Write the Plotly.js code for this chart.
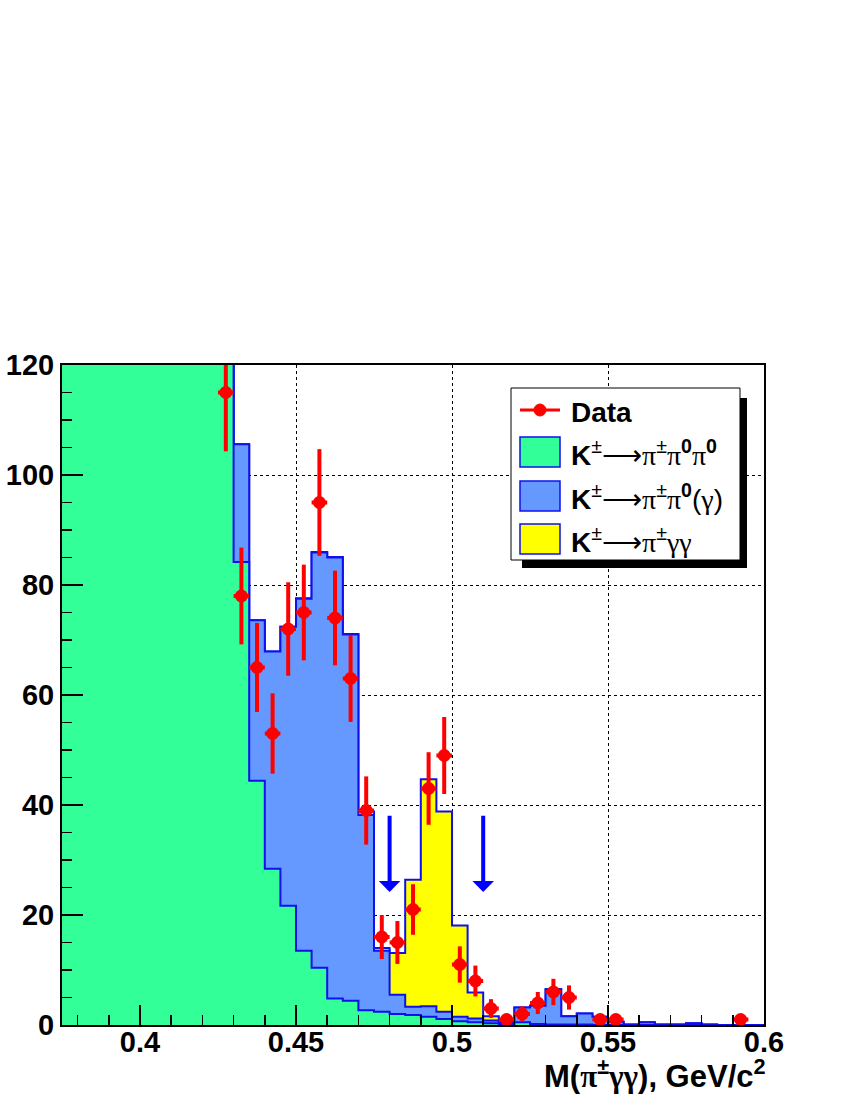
<!DOCTYPE html>
<html>
<head>
<meta charset="utf-8">
<script src="https://cdn.plot.ly/plotly-3.0.1.min.js"></script>
<style>
  body { margin: 0; background: #fff; }
  #chart { width: 850px; height: 1100px; }
</style>
</head>
<body>
<div id="chart"></div>
<script>
// bin lower edges, width 0.005 GeV/c^2
const binLow = [0.375, 0.380, 0.385, 0.390, 0.395, 0.400, 0.405, 0.410, 0.415, 0.420,
                0.425, 0.430, 0.435, 0.440, 0.445, 0.450, 0.455, 0.460, 0.465, 0.470,
                0.475, 0.480, 0.485, 0.490, 0.495, 0.500, 0.505, 0.510, 0.515, 0.520,
                0.525, 0.530, 0.535, 0.540, 0.545, 0.550, 0.555, 0.560, 0.565, 0.570,
                0.575, 0.580, 0.585, 0.590, 0.595];
const binHigh = 0.600;

// stacked levels (green, green+blue, green+blue+yellow)
const levelPi0Pi0 = [640, 700, 720, 690, 620, 540, 450, 360, 270, 200,
                     140, 84.2, 44.4, 28.4, 21.7, 13.5, 10.4, 4.8, 4.4, 2.7,
                     2.4, 2.0, 1.8, 1.5, 1.1, 0.7, 0.5, 0.3, 0.2, 0.5,
                     0.2, 0.1, 0.1, 0.1, 0, 0, 0, 0, 0, 0,
                     0, 0, 0, 0, 0];
const levelPi0Gamma = [650, 710, 730, 700, 630, 550, 460, 370, 280, 210,
                       150, 105.6, 73.6, 67.9, 72.4, 77.5, 85.9, 85.0, 71.0, 38.2,
                       13.5, 5.5, 3.3, 3.4, 2.4, 1.5, 1.2, 0.8, 0.5, 3.2,
                       3.5, 6.5, 1.6, 2.1, 1.5, 0.6, 0.1, 0.5, 0.1, 0.1,
                       0.3, 0.1, 0, 0, 0];
const levelGammaGamma = [650, 710, 730, 700, 630, 550, 460, 370, 280, 210,
                         150, 105.6, 73.6, 67.9, 72.4, 77.6, 86.0, 85.1, 71.1, 38.8,
                         14.0, 13.1, 26.4, 44.7, 38.8, 18.1, 5.9, 1.6, 0.7, 3.2,
                         3.5, 6.5, 1.6, 2.1, 1.5, 0.6, 0.1, 0.5, 0.1, 0.1,
                         0.3, 0.1, 0, 0, 0];

// data points (bin centres, counts, errors)
const dataX = [0.4275, 0.4325, 0.4375, 0.4425, 0.4475, 0.4525, 0.4575, 0.4625, 0.4675, 0.4725,
               0.4775, 0.4825, 0.4875, 0.4925, 0.4975, 0.5025, 0.5075, 0.5125, 0.5175, 0.5225,
               0.5275, 0.5325, 0.5375, 0.5475, 0.5525, 0.5925];
const dataY = [115, 78, 65, 53, 72, 75, 95, 74, 63, 39,
               16, 15, 21, 43, 49, 11, 8, 3, 1, 2,
               4, 6, 5, 1, 1, 1];
const dataErr = [10.7, 8.8, 8.1, 7.3, 8.5, 8.7, 9.7, 8.6, 7.9, 6.2,
                 4.0, 3.9, 4.6, 6.6, 7.0, 3.3, 2.8, 1.7, 1.0, 1.4,
                 2.0, 2.4, 2.2, 1.0, 1.0, 1.0];
const halfBin = 0.0025;

// signal window arrows
const cutX = [0.48, 0.51];

const sym = s => '<span style="font-family:Liberation Serif">' + s + '</span>';
const legendLabels = ['<b>Data</b>',
  '<b>K</b><sup>±</sup>' + sym('⟶π') + '<sup>±</sup>' + sym('π') + '<sup><b>0</b></sup>' + sym('π') + '<sup><b>0</b></sup>',
  '<b>K</b><sup>±</sup>' + sym('⟶π') + '<sup>±</sup>' + sym('π') + '<sup><b>0</b></sup>(' + sym('γ') + ')',
  '<b>K</b><sup>±</sup>' + sym('⟶π') + '<sup>±</sup>' + sym('γγ')];
const fillColors = ['#33ff99', '#6699ff', '#ffff00'];
const edgeColor = '#1010ee';
const font = 'Liberation Sans, Arial, Helvetica, sans-serif';

function stepY(levels) { return levels.concat([levels[levels.length - 1]]); }
const stepX = binLow.concat([binHigh]);

function histTrace(levels, color, name) {
  return {
    x: stepX, y: stepY(levels), type: 'scatter', mode: 'lines',
    line: {shape: 'hv', color: edgeColor, width: 2},
    fill: 'tozeroy', fillcolor: color, name: name, showlegend: false,
    hoverinfo: 'skip'
  };
}

let traces = [
  histTrace(levelGammaGamma, fillColors[2], 'K→πγγ'),
  histTrace(levelPi0Gamma, fillColors[1], 'K→ππ0(γ)'),
  histTrace(levelPi0Pi0, fillColors[0], 'K→ππ0π0'),
  {
    x: dataX, y: dataY, type: 'scatter', mode: 'markers', name: 'Data', showlegend: false,
    marker: {symbol: 'circle', size: 13, color: '#ff0000'},
    error_y: {type: 'data', array: dataErr, color: '#ff0000', thickness: 4, width: 0},
    error_x: {type: 'constant', value: halfBin, color: '#ff0000', thickness: 4, width: 0}
  }
];

// pixel helpers for the hand-made legend box
const px = v => (v - 62) / 702;
const py = v => (1025 - v) / 660;

let shapes = [
  {type: 'rect', xref: 'paper', yref: 'paper', x0: px(522), x1: px(747), y0: py(568), y1: py(398),
   fillcolor: '#000', line: {width: 0}},
  {type: 'rect', xref: 'paper', yref: 'paper', x0: px(511), x1: px(740), y0: py(560), y1: py(388),
   fillcolor: '#fff', line: {color: '#000', width: 1}},
  {type: 'line', xref: 'paper', yref: 'paper', x0: px(520), x1: px(560), y0: py(410), y1: py(410),
   line: {color: '#ff0000', width: 3}},
  {type: 'circle', xref: 'paper', yref: 'paper', x0: px(534), x1: px(546), y0: py(404), y1: py(416),
   fillcolor: '#ff0000', line: {color: '#ff0000', width: 1}}
];
const rowY = [410, 452, 496, 539];
fillColors.forEach((c, i) => {
  shapes.push({type: 'rect', xref: 'paper', yref: 'paper', x0: px(520), x1: px(560),
    y0: py(rowY[i + 1] + 15), y1: py(rowY[i + 1] - 15),
    fillcolor: c, line: {color: edgeColor, width: 1.5}});
});

let annotations = legendLabels.map((t, i) => ({
  xref: 'paper', yref: 'paper', x: px(569), y: py(rowY[i] + (i > 0 ? 1 : 2)),
  xanchor: 'left', yanchor: 'middle', showarrow: false, text: t,
  font: {family: font, size: 28, color: '#000'}
}));

cutX.forEach(xc => {
  annotations.push({x: xc, y: 24.2, ax: xc, ay: 38.3, xref: 'x', yref: 'y', axref: 'x', ayref: 'y',
    showarrow: true, arrowhead: 1, arrowsize: 0.9, arrowwidth: 4, arrowcolor: '#0000ff',
    standoff: 0, text: ''});
});

annotations.push({
  xref: 'paper', yref: 'paper', x: px(768), y: py(1074), xanchor: 'right', yanchor: 'middle',
  showarrow: false, text: '<b>M(' + sym('π') + '<sup>±</sup>' + sym('γγ') + '), GeV/c<sup>2</sup></b>',
  font: {family: font, size: 31, color: '#000'}
});

let layout = {
  width: 850, height: 1100,
  margin: {l: 62, r: 86, t: 365, b: 75},
  paper_bgcolor: '#fff', plot_bgcolor: '#fff',
  showlegend: false,
  xaxis: {
    range: [0.375, 0.6], tickvals: [0.4, 0.45, 0.5, 0.55, 0.6],
    ticktext: ['0.4', '0.45', '0.5', '0.55', '0.6'],
    ticks: 'inside', ticklen: 20, tickwidth: 1.5, tickcolor: '#000', ticklabelstandoff: -10,
    minor: {dtick: 0.01, tick0: 0.4, ticks: 'inside', ticklen: 10, tickwidth: 1.5, tickcolor: '#000', showgrid: false},
    showgrid: true, gridcolor: '#000', griddash: 'dot', gridwidth: 1,
    zeroline: false, showline: true, linecolor: '#000', linewidth: 2, mirror: true,
    tickfont: {family: font, size: 29, color: '#000', weight: 'bold'}
  },
  yaxis: {
    range: [0, 120], dtick: 20, tick0: 0,
    ticks: 'inside', ticklen: 21, tickwidth: 1.5, tickcolor: '#000',
    minor: {dtick: 5, ticks: 'inside', ticklen: 10, tickwidth: 1.5, tickcolor: '#000', showgrid: false},
    showgrid: true, gridcolor: '#000', griddash: 'dot', gridwidth: 1,
    zeroline: false, showline: true, linecolor: '#000', linewidth: 2, mirror: true,
    tickfont: {family: font, size: 29, color: '#000', weight: 'bold'}
  },
  shapes: shapes,
  annotations: annotations
};

Plotly.newPlot('chart', traces, layout, {staticPlot: true});
</script>
</body>
</html>
